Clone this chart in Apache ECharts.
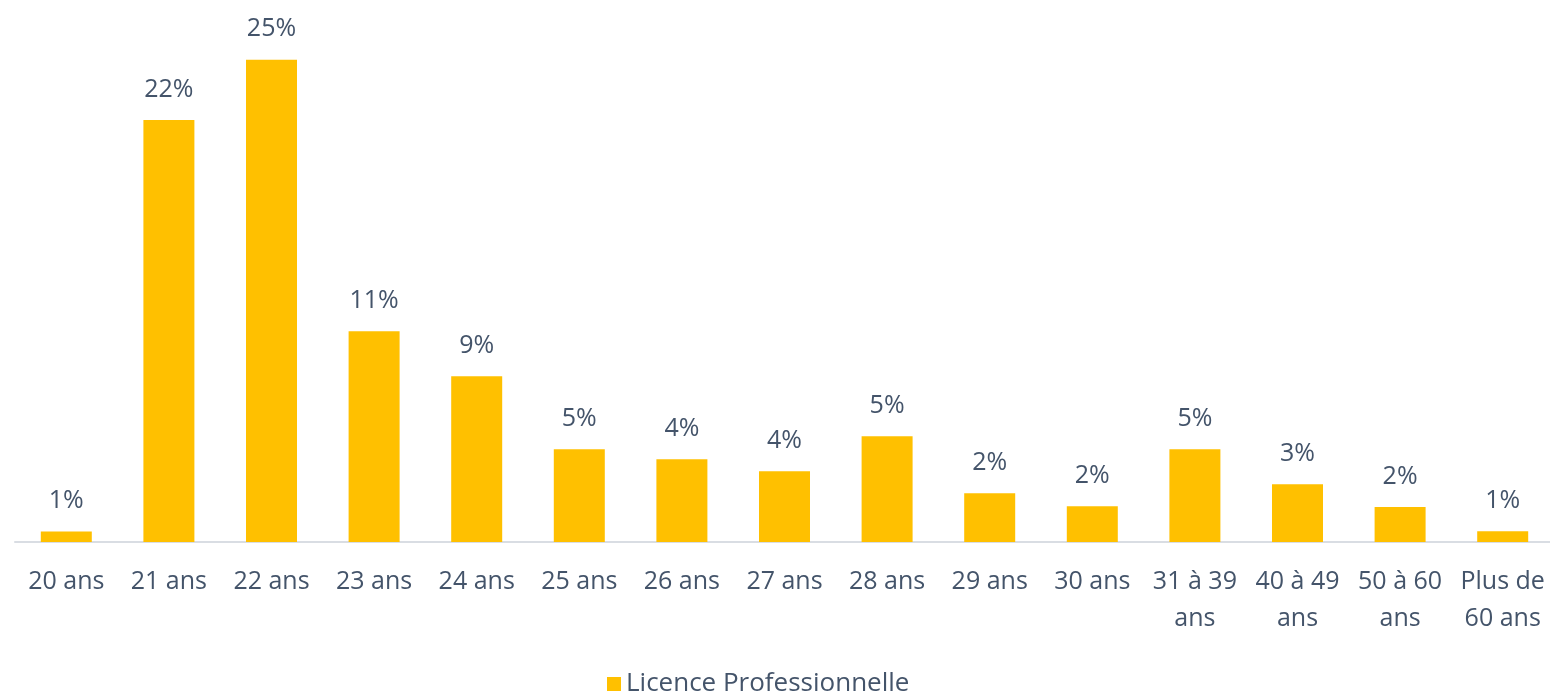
<!DOCTYPE html>
<html>
<head>
<meta charset="utf-8">
<script src="https://cdn.jsdelivr.net/npm/echarts@6/dist/echarts.min.js"></script>
<style>
    html, body { margin: 0; padding: 0; background: #fff; }
    #main { width: 1550px; height: 692px; }
</style>
</head>
<body>
<div id="main"></div>
<script>
// categories (age groups)
var ages = ['20 ans', '21 ans', '22 ans', '23 ans', '24 ans', '25 ans', '26 ans', '27 ans',
    '28 ans', '29 ans', '30 ans', '31 à 39\nans', '40 à 49\nans', '50 à 60\nans', 'Plus de\n60 ans'];
// values (%)
var parts = [0.55, 21.96, 25.1, 10.97, 8.63, 4.83, 4.31, 3.68, 5.5, 2.54, 1.86, 4.83, 3.0, 1.82, 0.56];
// labels as printed on the chart
var shown = ['1%', '22%', '25%', '11%', '9%', '5%', '4%', '4%', '5%', '2%', '2%', '5%', '3%', '2%', '1%'];

var txt = '#44546A';
var font = 'Open Sans';

var myChart = echarts.init(document.getElementById('main'));

var option = {
    animation: false,
    textStyle: { fontFamily: font },
    grid: {
        left: 15,
        right: -4,
        top: 4,
        bottom: 150,
        outerBoundsMode: 'none'
    },
    legend: {
        left: 602,
        top: 666,
        itemWidth: 14,
        itemHeight: 14,
        itemGap: 10,
        icon: 'rect',
        textStyle: { color: txt, fontSize: 26, fontFamily: font },
        data: ['Licence Professionnelle']
    },
    xAxis: {
        type: 'category',
        data: ages,
        axisLine: { lineStyle: { color: '#D9DDE3', width: 2 } },
        axisTick: { show: false },
        axisLabel: {
            color: txt,
            fontSize: 25,
            lineHeight: 37,
            margin: 21,
            interval: 0
        }
    },
    yAxis: {
        type: 'value',
        min: 0,
        max: 28,
        show: false,
        splitLine: { show: false }
    },
    series: [{
        name: 'Licence Professionnelle',
        type: 'bar',
        barWidth: 51,
        data: parts,
        itemStyle: { color: '#FFC000' },
        label: {
            show: true,
            position: 'top',
            distance: 18,
            color: txt,
            fontSize: 25,
            fontFamily: font,
            formatter: function (p) {
                return shown[p.dataIndex];
            }
        }
    }]
};
myChart.setOption(option);
</script>
</body>
</html>
